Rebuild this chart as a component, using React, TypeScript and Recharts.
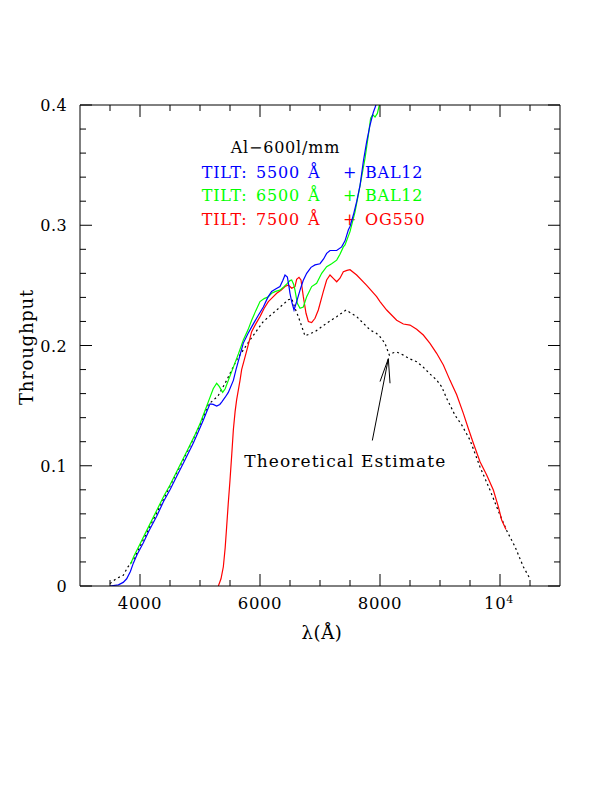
import React from 'react';
import { LineChart, Line, XAxis, YAxis, ReferenceLine, Customized } from 'recharts';

// ---- data (wavelength in Å, throughput) ----
const blueLambda = [3500, 3640, 3720, 3778, 3840, 3889, 3950, 4056, 4150, 4278, 4390, 4500, 4610, 4722, 4800, 4889, 4970, 5056, 5120, 5167, 5220, 5278, 5330, 5361, 5420, 5472, 5556, 5600, 5722, 5800, 5889, 5970, 6056, 6130, 6194, 6260, 6333, 6380, 6417, 6456, 6480, 6500, 6528, 6567, 6611, 6667, 6720, 6778, 6850, 6917, 7000, 7060, 7111, 7167, 7278, 7361, 7417, 7472, 7500, 7556, 7611, 7667, 7722, 7778, 7833, 7889, 7933];
const blueThroughput = [0, 0.001, 0.003, 0.006, 0.012, 0.019, 0.026, 0.036, 0.046, 0.058, 0.07, 0.08, 0.091, 0.102, 0.11, 0.119, 0.128, 0.138, 0.146, 0.1515, 0.151, 0.1497, 0.151, 0.153, 0.157, 0.161, 0.171, 0.18, 0.202, 0.21, 0.218, 0.225, 0.232, 0.24, 0.245, 0.247, 0.249, 0.254, 0.2586, 0.257, 0.25, 0.2434, 0.2365, 0.2295, 0.2365, 0.246, 0.254, 0.26, 0.265, 0.267, 0.268, 0.272, 0.2766, 0.279, 0.279, 0.282, 0.287, 0.296, 0.299, 0.3085, 0.3196, 0.333, 0.353, 0.3695, 0.383, 0.394, 0.4];

const greenLambda = [3840, 3900, 4000, 4100, 4200, 4300, 4400, 4500, 4600, 4700, 4800, 4900, 5000, 5100, 5160, 5220, 5278, 5320, 5378, 5420, 5472, 5556, 5640, 5722, 5800, 5861, 5930, 6000, 6070, 6139, 6194, 6260, 6333, 6400, 6456, 6500, 6528, 6560, 6583, 6622, 6667, 6722, 6778, 6861, 6944, 7028, 7111, 7194, 7278, 7333, 7389, 7417, 7500, 7583, 7667, 7750, 7806, 7844, 7878, 7917, 7956, 7989];
const greenThroughput = [0.018, 0.025, 0.035, 0.045, 0.055, 0.065, 0.075, 0.084, 0.094, 0.104, 0.114, 0.124, 0.135, 0.148, 0.156, 0.164, 0.1686, 0.166, 0.161, 0.164, 0.171, 0.182, 0.193, 0.2046, 0.213, 0.221, 0.229, 0.2365, 0.239, 0.2406, 0.2434, 0.245, 0.246, 0.249, 0.2517, 0.254, 0.2545, 0.251, 0.246, 0.235, 0.231, 0.232, 0.2406, 0.249, 0.2517, 0.26, 0.2655, 0.268, 0.271, 0.2758, 0.282, 0.2836, 0.2947, 0.311, 0.333, 0.3556, 0.375, 0.389, 0.392, 0.39, 0.393, 0.4];

const redLambda = [5306, 5350, 5389, 5420, 5444, 5470, 5500, 5530, 5556, 5585, 5611, 5667, 5694, 5780, 5861, 5930, 6000, 6070, 6139, 6210, 6278, 6350, 6417, 6472, 6528, 6583, 6611, 6650, 6683, 6722, 6767, 6806, 6861, 6917, 6972, 7056, 7111, 7167, 7222, 7278, 7333, 7389, 7450, 7500, 7611, 7778, 7944, 8000, 8111, 8278, 8389, 8500, 8611, 8722, 8833, 8944, 9056, 9167, 9278, 9389, 9472, 9556, 9667, 9778, 9889, 9972, 10028, 10100];
const redThroughput = [0, 0.006, 0.016, 0.032, 0.049, 0.068, 0.088, 0.11, 0.13, 0.145, 0.155, 0.171, 0.18, 0.196, 0.2115, 0.218, 0.224, 0.231, 0.2365, 0.24, 0.2434, 0.246, 0.249, 0.2503, 0.2476, 0.249, 0.255, 0.2567, 0.2545, 0.2406, 0.2268, 0.22, 0.219, 0.2226, 0.2295, 0.245, 0.2545, 0.2586, 0.2558, 0.253, 0.256, 0.2614, 0.2625, 0.263, 0.2586, 0.25, 0.2406, 0.2365, 0.2295, 0.221, 0.2179, 0.217, 0.2135, 0.2087, 0.2018, 0.1935, 0.1838, 0.171, 0.159, 0.1436, 0.131, 0.1187, 0.1034, 0.0923, 0.0798, 0.066, 0.0549, 0.047];

const theoryLambda = [3500, 3600, 3722, 3800, 3889, 4000, 4200, 4400, 4600, 4800, 5000, 5139, 5222, 5300, 5444, 5611, 5833, 6056, 6278, 6472, 6528, 6583, 6639, 6750, 6917, 7111, 7278, 7433, 7611, 7833, 7944, 8000, 8083, 8156, 8222, 8278, 8389, 8500, 8611, 8722, 8833, 8944, 9028, 9111, 9167, 9250, 9361, 9500, 9667, 9833, 10000, 10122, 10250, 10389, 10500];
const theoryThroughput = [0.002, 0.006, 0.009, 0.016, 0.0216, 0.033, 0.053, 0.073, 0.093, 0.113, 0.134, 0.151, 0.1545, 0.158, 0.171, 0.188, 0.2046, 0.22, 0.2295, 0.238, 0.239, 0.231, 0.224, 0.208, 0.2115, 0.2185, 0.224, 0.2295, 0.224, 0.213, 0.21, 0.2073, 0.2018, 0.192, 0.194, 0.1946, 0.192, 0.1888, 0.1865, 0.1819, 0.1763, 0.1713, 0.1657, 0.156, 0.1505, 0.142, 0.134, 0.1214, 0.099, 0.0798, 0.059, 0.045, 0.0327, 0.016, 0.006];

const xTicks = [3500, 4000, 4500, 5000, 5500, 6000, 6500, 7000, 7500, 8000, 8500, 9000, 9500, 10000, 10500];
const yTicks = [0, 0.02, 0.04, 0.06, 0.08, 0.1, 0.12, 0.14, 0.16, 0.18, 0.2, 0.22, 0.24, 0.26, 0.28, 0.3, 0.32, 0.34, 0.36, 0.38, 0.4];

// arrow (start -> tip, and two head barbs)
const arrowStart = { x: 7872, y: 0.121 };
const arrowTip = { x: 8139, y: 0.189 };
const arrowBarbA = { x: 8000, y: 0.17 };
const arrowBarbB = { x: 8167, y: 0.1686 };

const zip = (xs: number[], ys: number[]) => xs.map((x, i) => ({ x, y: ys[i] }));
const blueData = zip(blueLambda, blueThroughput);
const greenData = zip(greenLambda, greenThroughput);
const redData = zip(redLambda, redThroughput);
const theoryData = zip(theoryLambda, theoryThroughput);

const FONT = 'DejaVu Serif';
const BLUE = '#0000ff';
const GREEN = '#00ff00';
const RED = '#ff0000';

const isXMajor = (v: number) => v % 2000 === 0;
const isYMajor = (v: number) => Math.abs(v * 10 - Math.round(v * 10)) < 1e-6;

const BottomTick = (props: any) => {
  const { x, y, payload } = props;
  const v = payload.value;
  const major = isXMajor(v);
  return (
    <g>
      <line x1={x} x2={x} y1={y} y2={y - (major ? 12 : 6)} stroke="#000" strokeWidth={1} />
      {major && (
        v === 10000 ? (
          <text x={x - 1} y={y + 23} textAnchor="middle" fontFamily={FONT} fontSize={16.5} fill="#000" letterSpacing={0.6}>
            <tspan>10</tspan>
            <tspan dy={-6} fontSize={11}>4</tspan>
          </text>
        ) : (
          <text x={x} y={y + 23} textAnchor="middle" fontFamily={FONT} fontSize={16.5} fill="#000" letterSpacing={0.6}>
            {v}
          </text>
        )
      )}
    </g>
  );
};

const TopTick = (props: any) => {
  const { x, y, payload } = props;
  const major = isXMajor(payload.value);
  return <line x1={x} x2={x} y1={y} y2={y + (major ? 12 : 6)} stroke="#000" strokeWidth={1} />;
};

const LeftTick = (props: any) => {
  const { x, y, payload } = props;
  const v = payload.value;
  const major = isYMajor(v);
  const label = v === 0 ? '0' : String(Math.round(v * 10) / 10);
  return (
    <g>
      <line x1={x} x2={x + (major ? 12 : 6)} y1={y} y2={y} stroke="#000" strokeWidth={1} />
      {major && (
        <text x={x - 13} y={y + 6} textAnchor="end" fontFamily={FONT} fontSize={16} fill="#000" letterSpacing={0.4}>
          {label}
        </text>
      )}
    </g>
  );
};

const RightTick = (props: any) => {
  const { x, y, payload } = props;
  const major = isYMajor(payload.value);
  return <line x1={x} x2={x - (major ? 12 : 6)} y1={y} y2={y} stroke="#000" strokeWidth={1} />;
};

const Texts = () => {
  const common = { fontFamily: FONT, fontSize: 16, letterSpacing: 0.8 } as const;
  const rows = [
    { y: 177.5, color: BLUE, tilt: '5500', filter: 'BAL12' },
    { y: 201, color: GREEN, tilt: '6500', filter: 'BAL12' },
    { y: 224.5, color: RED, tilt: '7500', filter: 'OG550' },
  ];
  return (
    <g>
      <text x={230.7} y={153.3} fill="#000" {...common}>Al−600l/mm</text>
      {rows.map((r) => (
        <g key={r.tilt} fill={r.color}>
          <text x={201.7} y={r.y} {...common}>TILT:</text>
          <text x={256} y={r.y} {...common}>{r.tilt}</text>
          <text x={308} y={r.y} {...common}>Å</text>
          <text x={343} y={r.y} {...common}>+</text>
          <text x={365} y={r.y} {...common}>{r.filter}</text>
        </g>
      ))}
      <text x={244.3} y={466.7} fill="#000" fontFamily={FONT} fontSize={17} letterSpacing={1.1}>Theoretical Estimate</text>
      <text x={322} y={639} textAnchor="middle" fill="#000" fontFamily={FONT} fontSize={18} letterSpacing={0.6}>λ(Å)</text>
      <text
        x={33}
        y={347}
        textAnchor="middle"
        transform="rotate(-90 33 347)"
        fill="#000"
        fontFamily={FONT}
        fontSize={18}
        letterSpacing={0.8}
      >
        Throughput
      </text>
    </g>
  );
};

export default function App() {
  return (
    <div style={{ position: 'absolute', left: 0, top: 0, width: 612, height: 792, background: '#fff' }}>
      <LineChart width={612} height={792} margin={{ top: 100, right: 47, bottom: 176, left: 40 }}>
        <XAxis
          xAxisId="b"
          type="number"
          dataKey="x"
          domain={[3000, 11000]}
          ticks={xTicks}
          allowDataOverflow
          height={30}
          axisLine={{ stroke: '#000', strokeWidth: 1 }}
          tickLine={false}
          tickSize={0}
          tickMargin={0}
          interval={0}
          tick={<BottomTick />}
        />
        <XAxis
          xAxisId="t"
          orientation="top"
          type="number"
          dataKey="x"
          domain={[3000, 11000]}
          ticks={xTicks}
          allowDataOverflow
          height={5}
          axisLine={{ stroke: '#000', strokeWidth: 1 }}
          tickLine={false}
          tickSize={0}
          tickMargin={0}
          interval={0}
          tick={<TopTick />}
        />
        <YAxis
          yAxisId="l"
          type="number"
          domain={[0, 0.4]}
          ticks={yTicks}
          allowDataOverflow
          width={40}
          axisLine={{ stroke: '#000', strokeWidth: 1 }}
          tickLine={false}
          tickSize={0}
          tickMargin={0}
          interval={0}
          tick={<LeftTick />}
        />
        <YAxis
          yAxisId="r"
          orientation="right"
          type="number"
          domain={[0, 0.4]}
          ticks={yTicks}
          allowDataOverflow
          width={5}
          axisLine={{ stroke: '#000', strokeWidth: 1 }}
          tickLine={false}
          tickSize={0}
          tickMargin={0}
          interval={0}
          tick={<RightTick />}
        />
        <Line xAxisId="b" yAxisId="l" data={theoryData} dataKey="y" type="linear" stroke="#000" strokeWidth={1.2} strokeDasharray="2 3" dot={false} activeDot={false} isAnimationActive={false} />
        <Line xAxisId="b" yAxisId="l" data={redData} dataKey="y" type="linear" stroke={RED} strokeWidth={1.2} dot={false} activeDot={false} isAnimationActive={false} />
        <Line xAxisId="b" yAxisId="l" data={greenData} dataKey="y" type="linear" stroke={GREEN} strokeWidth={1.2} dot={false} activeDot={false} isAnimationActive={false} />
        <Line xAxisId="b" yAxisId="l" data={blueData} dataKey="y" type="linear" stroke={BLUE} strokeWidth={1.2} dot={false} activeDot={false} isAnimationActive={false} />
        <ReferenceLine xAxisId="b" yAxisId="l" segment={[arrowStart, arrowTip]} stroke="#000" strokeWidth={1} ifOverflow="visible" />
        <ReferenceLine xAxisId="b" yAxisId="l" segment={[arrowTip, arrowBarbA]} stroke="#000" strokeWidth={1} ifOverflow="visible" />
        <ReferenceLine xAxisId="b" yAxisId="l" segment={[arrowTip, arrowBarbB]} stroke="#000" strokeWidth={1} ifOverflow="visible" />
        <Customized component={<Texts />} />
      </LineChart>
    </div>
  );
}
